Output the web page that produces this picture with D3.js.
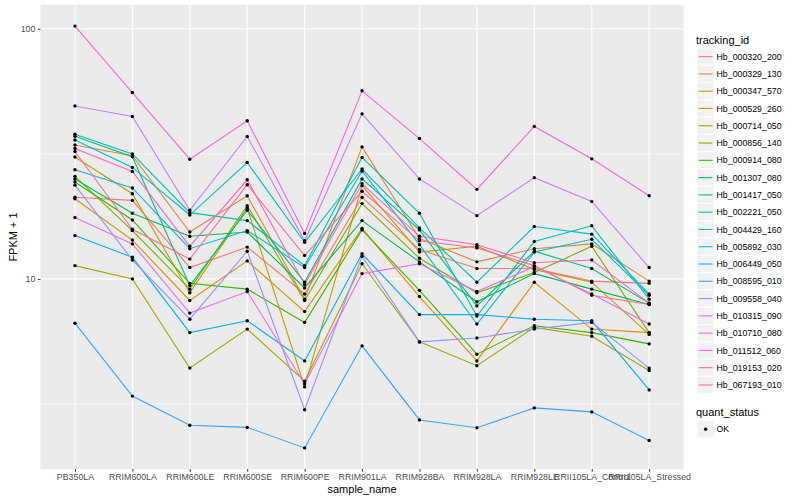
<!DOCTYPE html>
<html><head><meta charset="utf-8">
<script src="https://cdn.jsdelivr.net/npm/d3@7/dist/d3.min.js"></script>
<style>body{margin:0;background:#fff}svg{display:block;font-family:"Liberation Sans",Arial,Helvetica,sans-serif}</style>
</head><body><svg id="c" width="800" height="500"></svg>
<script>
const samples = ["PB350LA","RRIM600LA","RRIM600LE","RRIM600SE","RRIM600PE","RRIM901LA","RRIM928BA","RRIM928LA","RRIM928LE","RRII105LA_Control","RRII105LA_Stressed"];
const trackingIds = ["Hb_000320_200","Hb_000329_130","Hb_000347_570","Hb_000529_260","Hb_000714_050","Hb_000856_140","Hb_000914_080","Hb_001307_080","Hb_001417_050","Hb_002221_050","Hb_004429_160","Hb_005892_030","Hb_006449_050","Hb_008595_010","Hb_009558_040","Hb_010315_090","Hb_010710_080","Hb_011512_060","Hb_019153_020","Hb_067193_010"];
const colors = ["#F8766D","#EA8331","#D89000","#C09B00","#A3A500","#7CAE00","#39B600","#00BB4E","#00BF7D","#00C1A3","#00BFC4","#00BAE0","#00B0F6","#35A2FF","#9590FF","#C77CFF","#E76BF3","#FA62DB","#FF62BC","#FF6C91"];
// FPKM + 1 per tracking id, in sample order
const Hb_000320_200 = [21.2,20.6,11.1,13.4,8.7,21.2,13.1,11.0,11.0,9.8,9.6];
const Hb_000329_130 = [34.3,31.1,15.4,21.5,8.3,33.7,14.5,11.7,13.2,13.8,9.8];
const Hb_000347_570 = [20.9,14.3,8.2,11.8,7.4,15.9,8.5,4.7,9.7,6.3,6.1];
const Hb_000529_260 = [30.7,21.9,8.8,19.2,3.7,23.6,12.8,13.5,10.9,9.7,6.0];
const Hb_000714_050 = [11.3,10.0,4.4,6.3,3.9,11.5,5.6,4.5,6.4,5.9,4.3];
const Hb_000856_140 = [25.7,15.6,9.1,19.6,8.2,20.0,12.1,8.8,10.6,13.5,6.1];
const Hb_000914_080 = [24.4,17.2,9.6,9.1,6.7,15.7,9.0,5.0,6.5,6.1,5.5];
const Hb_001307_080 = [25.1,18.3,14.8,15.4,9.2,17.1,11.7,8.1,10.5,9.1,7.9];
const Hb_001417_050 = [37.2,30.8,9.4,18.8,9.7,25.1,15.7,7.8,12.9,11.0,8.0];
const Hb_002221_050 = [37.9,31.6,18.4,17.1,11.3,30.6,18.3,7.1,14.1,16.3,8.3];
const Hb_004429_160 = [35.9,27.9,18.0,29.2,14.0,27.5,16.0,9.7,16.2,15.1,8.7];
const Hb_005892_030 = [27.3,23.1,13.2,15.6,11.1,27.0,13.7,6.6,12.8,14.4,8.6];
const Hb_006449_050 = [14.9,12.2,6.1,6.8,4.7,12.6,7.2,7.2,6.9,6.8,3.6];
const Hb_008595_010 = [6.65,3.40,2.60,2.55,2.11,5.40,2.73,2.54,3.05,2.94,2.26];
const Hb_009558_040 = [23.7,11.9,6.9,12.9,3.0,12.3,5.6,5.8,6.3,6.7,4.4];
const Hb_010315_090 = [49.1,44.6,18.8,37.1,14.2,45.7,25.1,17.9,25.4,20.4,11.1];
const Hb_010710_080 = [17.6,13.8,7.3,8.9,3.8,10.5,11.5,8.9,11.2,8.7,6.6];
const Hb_011512_060 = [102.5,55.6,30.1,42.9,15.2,56.5,36.4,22.8,40.7,30.2,21.5];
const Hb_019153_020 = [33.2,26.9,13.5,24.9,9.5,24.0,14.8,13.7,11.6,11.9,8.0];
const Hb_067193_010 = [32.3,15.8,12.0,23.8,12.4,22.4,14.2,13.3,11.3,8.6,7.9];
const seriesValues = [Hb_000320_200,Hb_000329_130,Hb_000347_570,Hb_000529_260,Hb_000714_050,Hb_000856_140,Hb_000914_080,Hb_001307_080,Hb_001417_050,Hb_002221_050,Hb_004429_160,Hb_005892_030,Hb_006449_050,Hb_008595_010,Hb_009558_040,Hb_010315_090,Hb_010710_080,Hb_011512_060,Hb_019153_020,Hb_067193_010];
const yTicks = [10,100];
const yMinor = [Math.sqrt(10), Math.sqrt(1000)];
const quantStatus = ["OK"];

const svg = d3.select("#c");
const P = {l:40.5, r:683.6, t:5, b:469};

const all = seriesValues.flat();
const lmin = Math.log10(d3.min(all)), lmax = Math.log10(d3.max(all));
const ex = (lmax-lmin)*0.05;
const y = d3.scaleLog().domain([Math.pow(10,lmin-ex), Math.pow(10,lmax+ex)]).range([P.b,P.t]);
const x = d3.scalePoint().domain(samples).range([P.l,P.r]).padding(0.6);

svg.append("rect").attr("x",P.l).attr("y",P.t).attr("width",P.r-P.l).attr("height",P.b-P.t).attr("fill","#EBEBEB");
const g = svg.append("g");
g.selectAll(".ymin").data(yMinor).join("line").attr("x1",P.l).attr("x2",P.r).attr("y1",d=>y(d)).attr("y2",d=>y(d)).attr("stroke","#fff").attr("stroke-width",0.55);
g.selectAll(".ymaj").data(yTicks).join("line").attr("x1",P.l).attr("x2",P.r).attr("y1",d=>y(d)).attr("y2",d=>y(d)).attr("stroke","#fff").attr("stroke-width",1.1);
g.selectAll(".xmaj").data(samples).join("line").attr("x1",d=>x(d)).attr("x2",d=>x(d)).attr("y1",P.t).attr("y2",P.b).attr("stroke","#fff").attr("stroke-width",1.1);

const line = d3.line().x((d,i)=>x(samples[i])).y(d=>y(d));
seriesValues.forEach((vals,i)=>{
  svg.append("path").attr("d",line(vals)).attr("fill","none").attr("stroke",colors[i]).attr("stroke-width",1.1);
});
seriesValues.forEach((vals)=>{
  svg.append("g").selectAll("circle").data(vals).join("circle")
    .attr("cx",(d,i)=>x(samples[i])).attr("cy",d=>y(d)).attr("r",1.7).attr("fill","#000");
});

// axes
const xAxis = d3.axisBottom(x).tickSize(2.7).tickPadding(2.5);
const xg = svg.append("g").attr("transform",`translate(0,${P.b})`).call(xAxis);
const yAxis = d3.axisLeft(y).tickValues(yTicks).tickFormat(d3.format("d")).tickSize(2.7).tickPadding(2.5);
const yg = svg.append("g").attr("transform",`translate(${P.l},0)`).call(yAxis);
[xg,yg].forEach(a=>{
  a.select(".domain").remove();
  a.selectAll(".tick line").attr("stroke","#333").attr("stroke-width",1);
  a.selectAll(".tick text").attr("fill","#4D4D4D").style("font-size","8.8px").style("font-family","'Liberation Sans',Arial,sans-serif");
});
svg.append("text").attr("x",(P.l+P.r)/2).attr("y",493).attr("text-anchor","middle").style("font-size","11px").text("sample_name");
svg.append("text").attr("transform",`translate(17,${(P.t+P.b)/2}) rotate(-90)`).attr("text-anchor","middle").style("font-size","11px").text("FPKM + 1");

// legend
const lg = svg.append("g");
lg.append("text").attr("x",696).attr("y",44).style("font-size","11px").text("tracking_id");
const k0 = 48.0, ks = 17.28;
trackingIds.forEach((id,i)=>{
  const ky = k0 + i*ks;
  lg.append("rect").attr("x",697).attr("y",ky).attr("width",ks).attr("height",ks).attr("fill","#F2F2F2").attr("stroke","#fff").attr("stroke-width",1);
  lg.append("line").attr("x1",698.7).attr("x2",712.6).attr("y1",ky+ks/2).attr("y2",ky+ks/2).attr("stroke",colors[i]).attr("stroke-width",1.1);
  lg.append("text").attr("x",716.5).attr("y",ky+ks/2+3.1).style("font-size","8.8px").text(id);
});
lg.append("text").attr("x",696).attr("y",416).style("font-size","11px").text("quant_status");
quantStatus.forEach((q,i)=>{
  const ky = 420.6 + i*ks;
  lg.append("rect").attr("x",697).attr("y",ky).attr("width",ks).attr("height",ks).attr("fill","#F2F2F2").attr("stroke","#fff");
  lg.append("circle").attr("cx",697+ks/2).attr("cy",ky+ks/2).attr("r",1.7).attr("fill","#000");
  lg.append("text").attr("x",716.5).attr("y",ky+ks/2+3.1).style("font-size","8.8px").text(q);
});
</script></body></html>
